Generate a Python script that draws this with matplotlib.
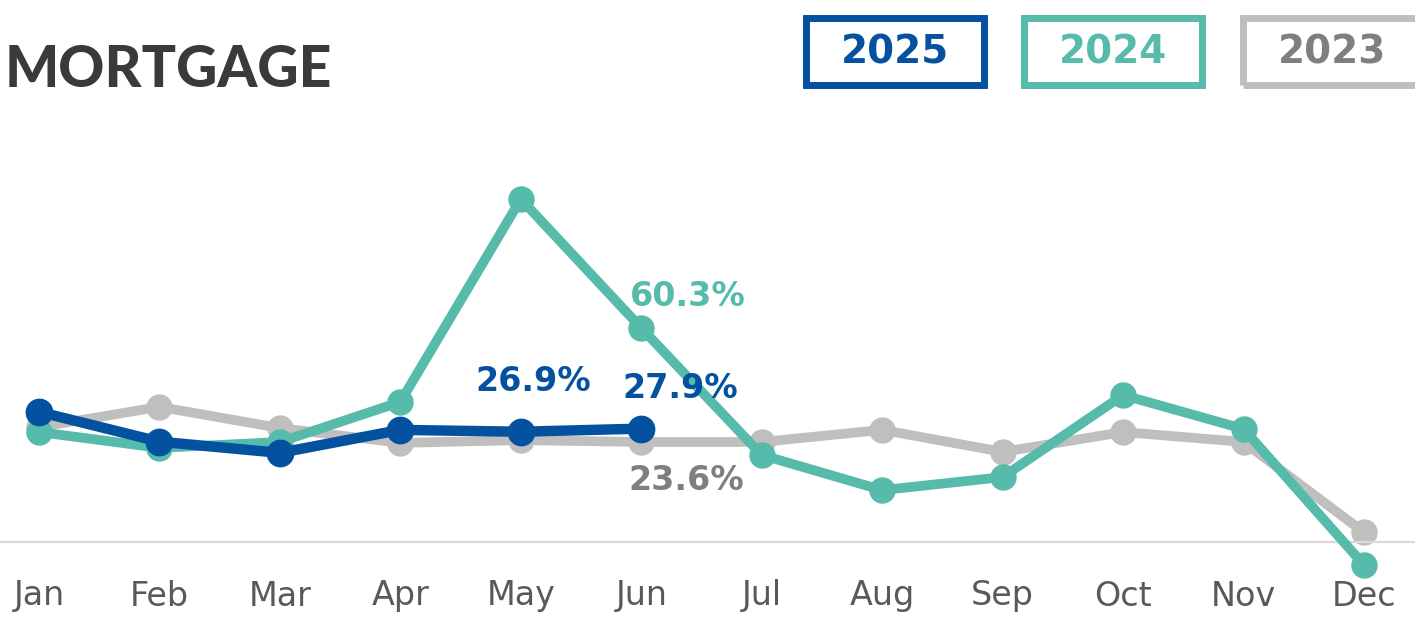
import matplotlib
matplotlib.use("Agg")
import matplotlib.pyplot as plt
from matplotlib.patches import Rectangle

months = ["Jan", "Feb", "Mar", "Apr", "May", "Jun", "Jul", "Aug", "Sep", "Oct", "Nov", "Dec"]
s2025 = [33.3, 23.7, 20.1, 27.5, 26.9, 27.9]
s2024 = [26.8, 21.7, 23.6, 36.5, 101.8, 60.3, 19.4, 8.1, 12.3, 38.7, 27.8, -16.0]
s2023 = [28.4, 34.9, 28.1, 23.3, 24.2, 23.6, 23.6, 27.5, 20.4, 26.8, 23.6, -5.5]
legend_years = ["2025", "2024", "2023"]

NAVY = "#0451A0"
TEAL = "#56BBAA"
GRAY = "#BFBFBF"
GRAYTXT = "#7F7F7F"

W, H = 1415, 618
fig = plt.figure(figsize=(W / 100, H / 100), dpi=100)
fig.patch.set_facecolor("white")

ax_bottom = (H - 542) / H
ax = fig.add_axes([0, ax_bottom, 1, 1 - ax_bottom])
ax.set_facecolor("none")

x = list(range(12))
ax.plot(x, s2023, color=GRAY, lw=7.0, marker="o", ms=18, zorder=2, clip_on=False,
        solid_joinstyle="round")
ax.plot(x, s2024, color=TEAL, lw=7.0, marker="o", ms=18, zorder=3, clip_on=False,
        solid_joinstyle="round")
ax.plot(x[:len(s2025)], s2025, color=NAVY, lw=7.5, marker="o", ms=19, zorder=4, clip_on=False,
        solid_joinstyle="round")

px_per_x = 120.45
ax.set_xlim(-39 / px_per_x, 11 + 51 / px_per_x)
ax.set_ylim(-8.6, 165.9)

for s in ["top", "left", "right"]:
    ax.spines[s].set_visible(False)
ax.spines["bottom"].set_color("#D9D9D9")
ax.spines["bottom"].set_linewidth(1.6)
ax.set_yticks([])
ax.set_xticks(x)
ax.set_xticklabels(months, fontsize=24, color="#595959", family="DejaVu Sans")
ax.tick_params(axis="x", length=0, pad=27)

lbl_font = dict(fontsize=24, fontweight="bold", family="DejaVu Sans", ha="center", va="center",
                textcoords="offset pixels", zorder=6)
ax.annotate(f"{s2025[4]:.1f}%", (4, s2025[4]), xytext=(12, 50), color=NAVY, **lbl_font)
ax.annotate(f"{s2025[5]:.1f}%", (5, s2025[5]), xytext=(39, 40), color=NAVY, **lbl_font)
ax.annotate(f"{s2024[5]:.1f}%", (5, s2024[5]), xytext=(46, 31), color=TEAL, **lbl_font)
ax.annotate(f"{s2023[5]:.1f}%", (5, s2023[5]), xytext=(45, -39), color=GRAYTXT, **lbl_font)

fig.text(5 / W, 1 - 87 / H, "MORTGAGE", fontsize=41, fontweight="black", family="Lato",
         color="#3A3A3A", ha="left", va="baseline")

box_cols = [NAVY, TEAL, GRAY]
txt_cols = [NAVY, TEAL, GRAYTXT]
box_left = [806, 1024, 1243]
for yr, bc, tc, bl in zip(legend_years, box_cols, txt_cols, box_left):
    r = Rectangle((bl / W, 1 - 85 / H), 178 / W, 67 / H, transform=fig.transFigure,
                  fill=False, edgecolor=bc, lw=5.0, clip_on=False)
    fig.add_artist(r)
    fig.text((bl + 89) / W, 1 - 53 / H, yr, fontsize=28, fontweight="bold", family="DejaVu Sans",
             color=tc, ha="center", va="center")

fig.savefig("out.png", dpi=100, facecolor="white")
